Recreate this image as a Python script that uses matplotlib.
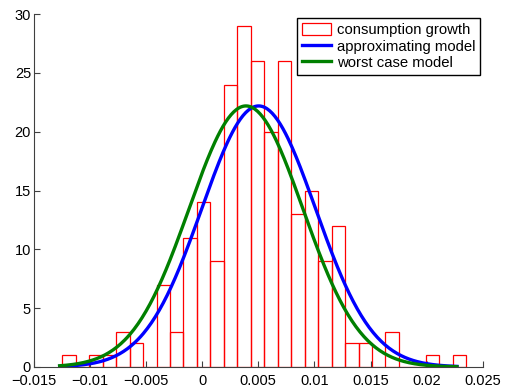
import numpy as np
import matplotlib
matplotlib.use('Agg')
import matplotlib.pyplot as plt
from matplotlib.ticker import FuncFormatter

plt.rcParams['font.family'] = ['Liberation Sans', 'DejaVu Sans']

# histogram of consumption growth (30 bins)
bin_start = -0.01247
bin_width = 0.0012
counts = [1, 0, 1, 1, 3, 2, 0, 7, 3, 11, 14, 9, 24, 29, 26,
          20, 26, 13, 15, 9, 12, 2, 2, 0, 3, 0, 0, 1, 0, 1]

# fitted normal curves (mean, std), scaled to the histogram
n_obs = sum(counts)
approx_mu, approx_sd = 0.00503, 0.00507
worst_mu, worst_sd = 0.0039, 0.00507
curve_lo, curve_hi = -0.0127, 0.0227

xticks = [-0.015, -0.01, -0.005, 0, 0.005, 0.01, 0.015, 0.02, 0.025]
yticks = [0, 5, 10, 15, 20, 25, 30]

fig = plt.figure(figsize=(5.05, 3.87), dpi=100)
ax = fig.add_axes([0.067, 0.0517, 0.889, 0.912])

edges = bin_start + bin_width * np.arange(len(counts))
bars = ax.bar(edges, counts, width=bin_width, align='edge', facecolor='none',
              edgecolor='red', linewidth=0.9)

xs = np.linspace(curve_lo, curve_hi, 300)
def scaled_pdf(x, mu, sd):
    return n_obs * bin_width / (sd * np.sqrt(2 * np.pi)) * np.exp(-0.5 * ((x - mu) / sd) ** 2)

l1, = ax.plot(xs, scaled_pdf(xs, approx_mu, approx_sd), color='blue', lw=2.4)
l2, = ax.plot(xs, scaled_pdf(xs, worst_mu, worst_sd), color='green', lw=2.4)

ax.set_xlim(-0.015, 0.025)
ax.set_ylim(0, 30)
ax.set_xticks(xticks)
ax.set_yticks(yticks)
ax.xaxis.set_major_formatter(FuncFormatter(lambda v, p: ('%g' % v).replace('-', '\u2212')))
ax.tick_params(direction='in', length=4, labelsize=10.5, colors='#404040', labelcolor='black')
ax.tick_params(axis='x', pad=5)
ax.tick_params(axis='y', pad=2)
for s in ['top', 'right']:
    ax.spines[s].set_visible(False)
for s in ['left', 'bottom']:
    ax.spines[s].set_color('#404040')

leg = ax.legend([bars.patches[0], l1, l2],
                ['consumption growth', 'approximating model', 'worst case model'],
                loc='upper right', bbox_to_anchor=(0.993, 0.988), fontsize=10.7,
                frameon=True, fancybox=False, edgecolor='black', framealpha=1,
                handlelength=2.0, handleheight=0.9, borderpad=0.3, labelspacing=0.15,
                handletextpad=0.35, borderaxespad=0.0)
leg.get_frame().set_linewidth(1.0)

fig.savefig('out.png', dpi=100)
